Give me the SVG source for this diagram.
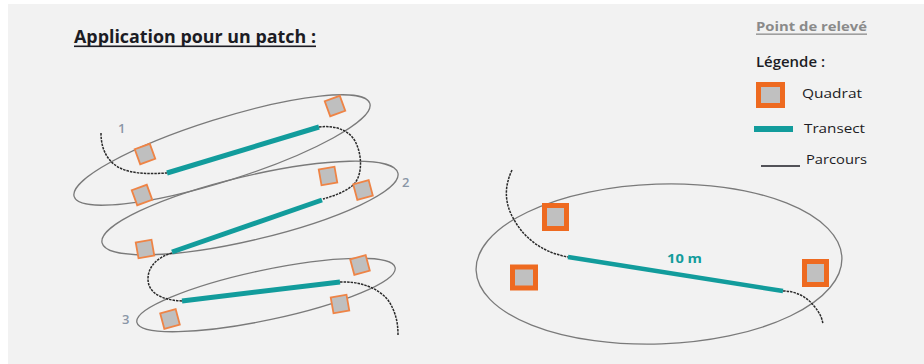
<svg xmlns="http://www.w3.org/2000/svg" xmlns:xlink="http://www.w3.org/1999/xlink" width="924" height="364" viewBox="0 0 924 364">
  <style>
    .zone { fill: none; stroke: #7a7a7a; stroke-width: 1.3; }
    .transect { fill: none; stroke: #129c9c; stroke-width: 5; stroke-linecap: butt; }
    .path { fill: none; stroke: #2a2a2a; stroke-width: 1.5; stroke-dasharray: 2.5 1; }
    .qsmall { fill: #bfbfbf; stroke: #ee8446; stroke-width: 1.8; }
    .qbig { fill: #c0c0c0; stroke: #ee6a20; stroke-width: 5; }
    .txt { font-family: "Open Sans", "Liberation Sans", sans-serif; fill: #1c1c24; }
    .num { font-family: "Open Sans", "Liberation Sans", sans-serif; fill: #8a96a6; font-size: 13px; font-weight: 600; }
  </style>
  <defs>
    <rect id="q" class="qsmall" x="-8" y="-8" width="16" height="16"/>
  </defs>

  <!-- page -->
  <rect x="0" y="0" width="924" height="364" fill="#ffffff"/>
  <rect x="8" y="4" width="916" height="360" fill="#f2f2f2"/>

  <!-- headings -->
  <g id="title">
    <text class="txt" x="74" y="43" font-size="17" font-weight="700" textLength="242" lengthAdjust="spacingAndGlyphs">Application pour un patch :</text>
    <rect x="74" y="45.5" width="242" height="1.6" fill="#1c1c24"/>
  </g>
  <g id="point-releve">
    <text class="txt" x="756" y="31" font-size="13" font-weight="700" style="fill:#8a8a8a" textLength="111" lengthAdjust="spacingAndGlyphs">Point de relevé</text>
    <rect x="756" y="33.5" width="111" height="1.3" fill="#8a8a8a"/>
  </g>

  <!-- legend -->
  <g id="legend">
    <text class="txt" x="756" y="67" font-size="14" font-weight="600" textLength="69" lengthAdjust="spacingAndGlyphs">Légende :</text>
    <rect class="qbig" x="758.5" y="84.5" width="24" height="21"/>
    <text class="txt" x="802" y="98" font-size="13.5" textLength="60" lengthAdjust="spacingAndGlyphs">Quadrat</text>
    <line class="transect" x1="754" y1="129" x2="793" y2="129" style="stroke-width:6"/>
    <text class="txt" x="804" y="133" font-size="13.5" textLength="61" lengthAdjust="spacingAndGlyphs">Transect</text>
    <line x1="761" y1="166" x2="800" y2="166" stroke="#1c1c24" stroke-width="1.3"/>
    <text class="txt" x="806" y="164" font-size="13.5" textLength="61" lengthAdjust="spacingAndGlyphs">Parcours</text>
  </g>

  <!-- patch zones -->
  <g id="zone-1">
    <ellipse class="zone" cx="222" cy="150" rx="155" ry="31" transform="rotate(-17.5 222 150)"/>
    <text class="num" x="118" y="133">1</text>
  </g>
  <g id="zone-2">
    <ellipse class="zone" cx="250" cy="208" rx="152" ry="32" transform="rotate(-13.3 250 208)"/>
    <text class="num" x="402" y="187">2</text>
  </g>
  <g id="zone-3">
    <ellipse class="zone" cx="266" cy="295" rx="132" ry="25" transform="rotate(-12 266 295)"/>
    <text class="num" x="122" y="324">3</text>
  </g>
  <g id="zone-detail">
    <ellipse class="zone" cx="659" cy="264" rx="183" ry="80" transform="rotate(-2 659 264)"/>
    <text class="txt" x="667" y="263" font-size="13" font-weight="700" style="fill:#129c9c" textLength="35" lengthAdjust="spacingAndGlyphs">10 m</text>
  </g>

  <!-- walking route and transects -->
  <g id="connectors">
    <path class="path" d="M101,133 C101,150 108,162 120,168 C132,174 150,174 167,173"/>
    <path class="path" d="M319,127 C335,125 350,130 356,143 C363,158 362,178 352,186 C343,193 333,196 323,199"/>
    <path class="path" d="M172,253 C158,257 148,266 148,279 C148,292 160,300 182,301"/>
    <path class="path" d="M340,282 C360,281 378,288 388,300 C396,312 398,323 398,335"/>
    <path class="path" d="M512,170 C505,185 504,200 512,216 C522,236 540,252 568,257"/>
    <path class="path" d="M783,291 C797,291 808,298 814,306 C820,313 822,318 823,324"/>
    <line class="transect" x1="167" y1="173" x2="319" y2="127"/>
    <line class="transect" x1="172" y1="252" x2="322" y2="200"/>
    <line class="transect" x1="182" y1="301" x2="340" y2="282"/>
    <line class="transect" x1="568" y1="257" x2="783" y2="291" style="stroke-width:4.5"/>
  </g>

  <!-- quadrats -->
  <g id="quadrats-1">
    <use xlink:href="#q" transform="translate(335 106) rotate(-20)"/>
    <use xlink:href="#q" transform="translate(145 154) rotate(-20)"/>
    <use xlink:href="#q" transform="translate(142 195) rotate(-20)"/>
  </g>
  <g id="quadrats-2">
    <use xlink:href="#q" transform="translate(328 176) rotate(-10)"/>
    <use xlink:href="#q" transform="translate(363 190) rotate(-15)"/>
    <use xlink:href="#q" transform="translate(145 249) rotate(-10)"/>
  </g>
  <g id="quadrats-3">
    <use xlink:href="#q" transform="translate(360 265) rotate(-15)"/>
    <use xlink:href="#q" transform="translate(340 304) rotate(-10)"/>
    <use xlink:href="#q" transform="translate(170 319) rotate(-15)"/>
  </g>
  <g id="quadrats-detail">
    <rect class="qbig" x="544.5" y="205.5" width="22" height="23"/>
    <rect class="qbig" x="512.5" y="267" width="23" height="21"/>
    <rect class="qbig" x="804.5" y="261.5" width="22" height="23"/>
  </g>
</svg>
